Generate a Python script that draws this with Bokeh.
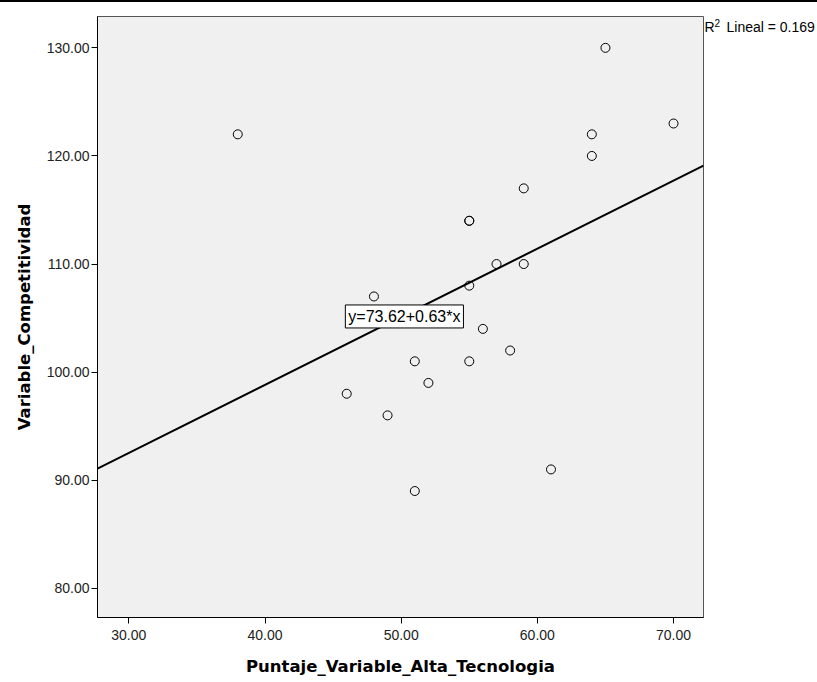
from bokeh.plotting import figure
from bokeh.layouts import row, column
from bokeh.models import Label, Range1d, FixedTicker, CustomJSTickFormatter, Div
from bokeh.embed import file_html
from bokeh.resources import INLINE

# Data
alta_tecnologia = [38, 65, 64, 64, 70, 59, 55, 55, 57, 59, 55, 48, 56, 58, 51, 55, 46, 52, 49, 61, 51]
competitividad  = [122, 130, 122, 120, 123, 117, 114, 114, 110, 110, 108, 107, 104, 102, 101, 101, 98, 99, 96, 91, 89]
intercept = 73.62
slope = 0.63
r2_text = "Lineal = 0.169"
eq_text = "y=73.62+0.63*x"
x_ticks = [30, 40, 50, 60, 70]
y_ticks = [80, 90, 100, 110, 120, 130]
x_label = "Puntaje_Variable_Alta_Tecnologia"
y_label = "Variable_Competitividad"

x0, x1 = 27.7, 72.2
y0, y1 = 77.3, 132.9

BAR = 2
H = 682 - BAR
p = figure(width=704, height=H, output_backend="svg", toolbar_location=None,
           x_range=Range1d(x0, x1), y_range=Range1d(y0, y1),
           min_border_left=97, min_border_right=1, min_border_top=16 - BAR, min_border_bottom=65)
p.title.visible = False
p.background_fill_color = "#F0F0F0"
p.border_fill_color = "white"
p.outline_line_color = "#555555"
p.outline_line_width = 1
p.grid.visible = False

for ax, ticks in ((p.xaxis, x_ticks), (p.yaxis, y_ticks)):
    ax.ticker = FixedTicker(ticks=ticks)
    ax.formatter = CustomJSTickFormatter(code="return tick.toFixed(2);")
    ax.minor_tick_line_color = None
    ax.major_tick_out = 6
    ax.major_tick_in = 0
    ax.major_tick_line_color = "black"
    ax.axis_line_color = "black"
    ax.major_label_text_font = "Liberation Sans"
    ax.major_label_text_font_size = "14px"
    ax.major_label_text_color = "#222222"
    ax.axis_label_text_font = "DejaVu Sans"
    ax.axis_label_text_font_style = "bold"
    ax.axis_label_text_font_size = "16.5px"
    ax.axis_label_text_color = "black"

p.xaxis.axis_label = x_label
p.yaxis.axis_label = y_label
p.xaxis.major_label_standoff = 6
p.xaxis.axis_label_standoff = 14
p.yaxis.major_label_standoff = 2
p.yaxis.axis_label_standoff = 10

# regression line across full x range
p.line([x0, x1], [intercept + slope * x0, intercept + slope * x1], line_color="black", line_width=2)

p.scatter(alta_tecnologia, competitividad, marker="circle", size=9,
          fill_color=None, line_color="black", line_width=1)

eq = Label(x=45.9, y=105.15, text=eq_text, text_align="left", text_baseline="middle",
           text_font="Liberation Sans", text_font_size="16px", text_color="black",
           background_fill_color="white", border_line_color="black", border_line_width=1,
           padding=3)
p.add_layout(eq)

# side panel with the R² annotation
W2 = 113
p2 = figure(width=W2, height=H, output_backend="svg", toolbar_location=None,
            x_range=Range1d(0, W2), y_range=Range1d(0, H),
            min_border_left=0, min_border_right=0, min_border_top=0, min_border_bottom=0)
p2.title.visible = False
p2.axis.visible = False
p2.grid.visible = False
p2.outline_line_color = None
p2.background_fill_color = "white"
ry = H - (27 - BAR) + 13
p2.add_layout(Label(x=0, y=ry, text="R", text_align="left", text_baseline="middle",
                    text_font="Liberation Sans", text_font_size="14px", text_color="black"))
p2.add_layout(Label(x=10, y=ry + 5, text="2", text_align="left", text_baseline="middle",
                    text_font="Liberation Sans", text_font_size="10px", text_color="black"))
p2.add_layout(Label(x=22, y=ry, text=r2_text, text_align="left", text_baseline="middle",
                    text_font="Liberation Sans", text_font_size="14px", text_color="black"))

bar = Div(width=817, height=BAR, margin=0, styles={"background-color": "black"})
layout = column(bar, row(p, p2, spacing=0), spacing=0)
open("out.html", "w").write(file_html(layout, INLINE))
